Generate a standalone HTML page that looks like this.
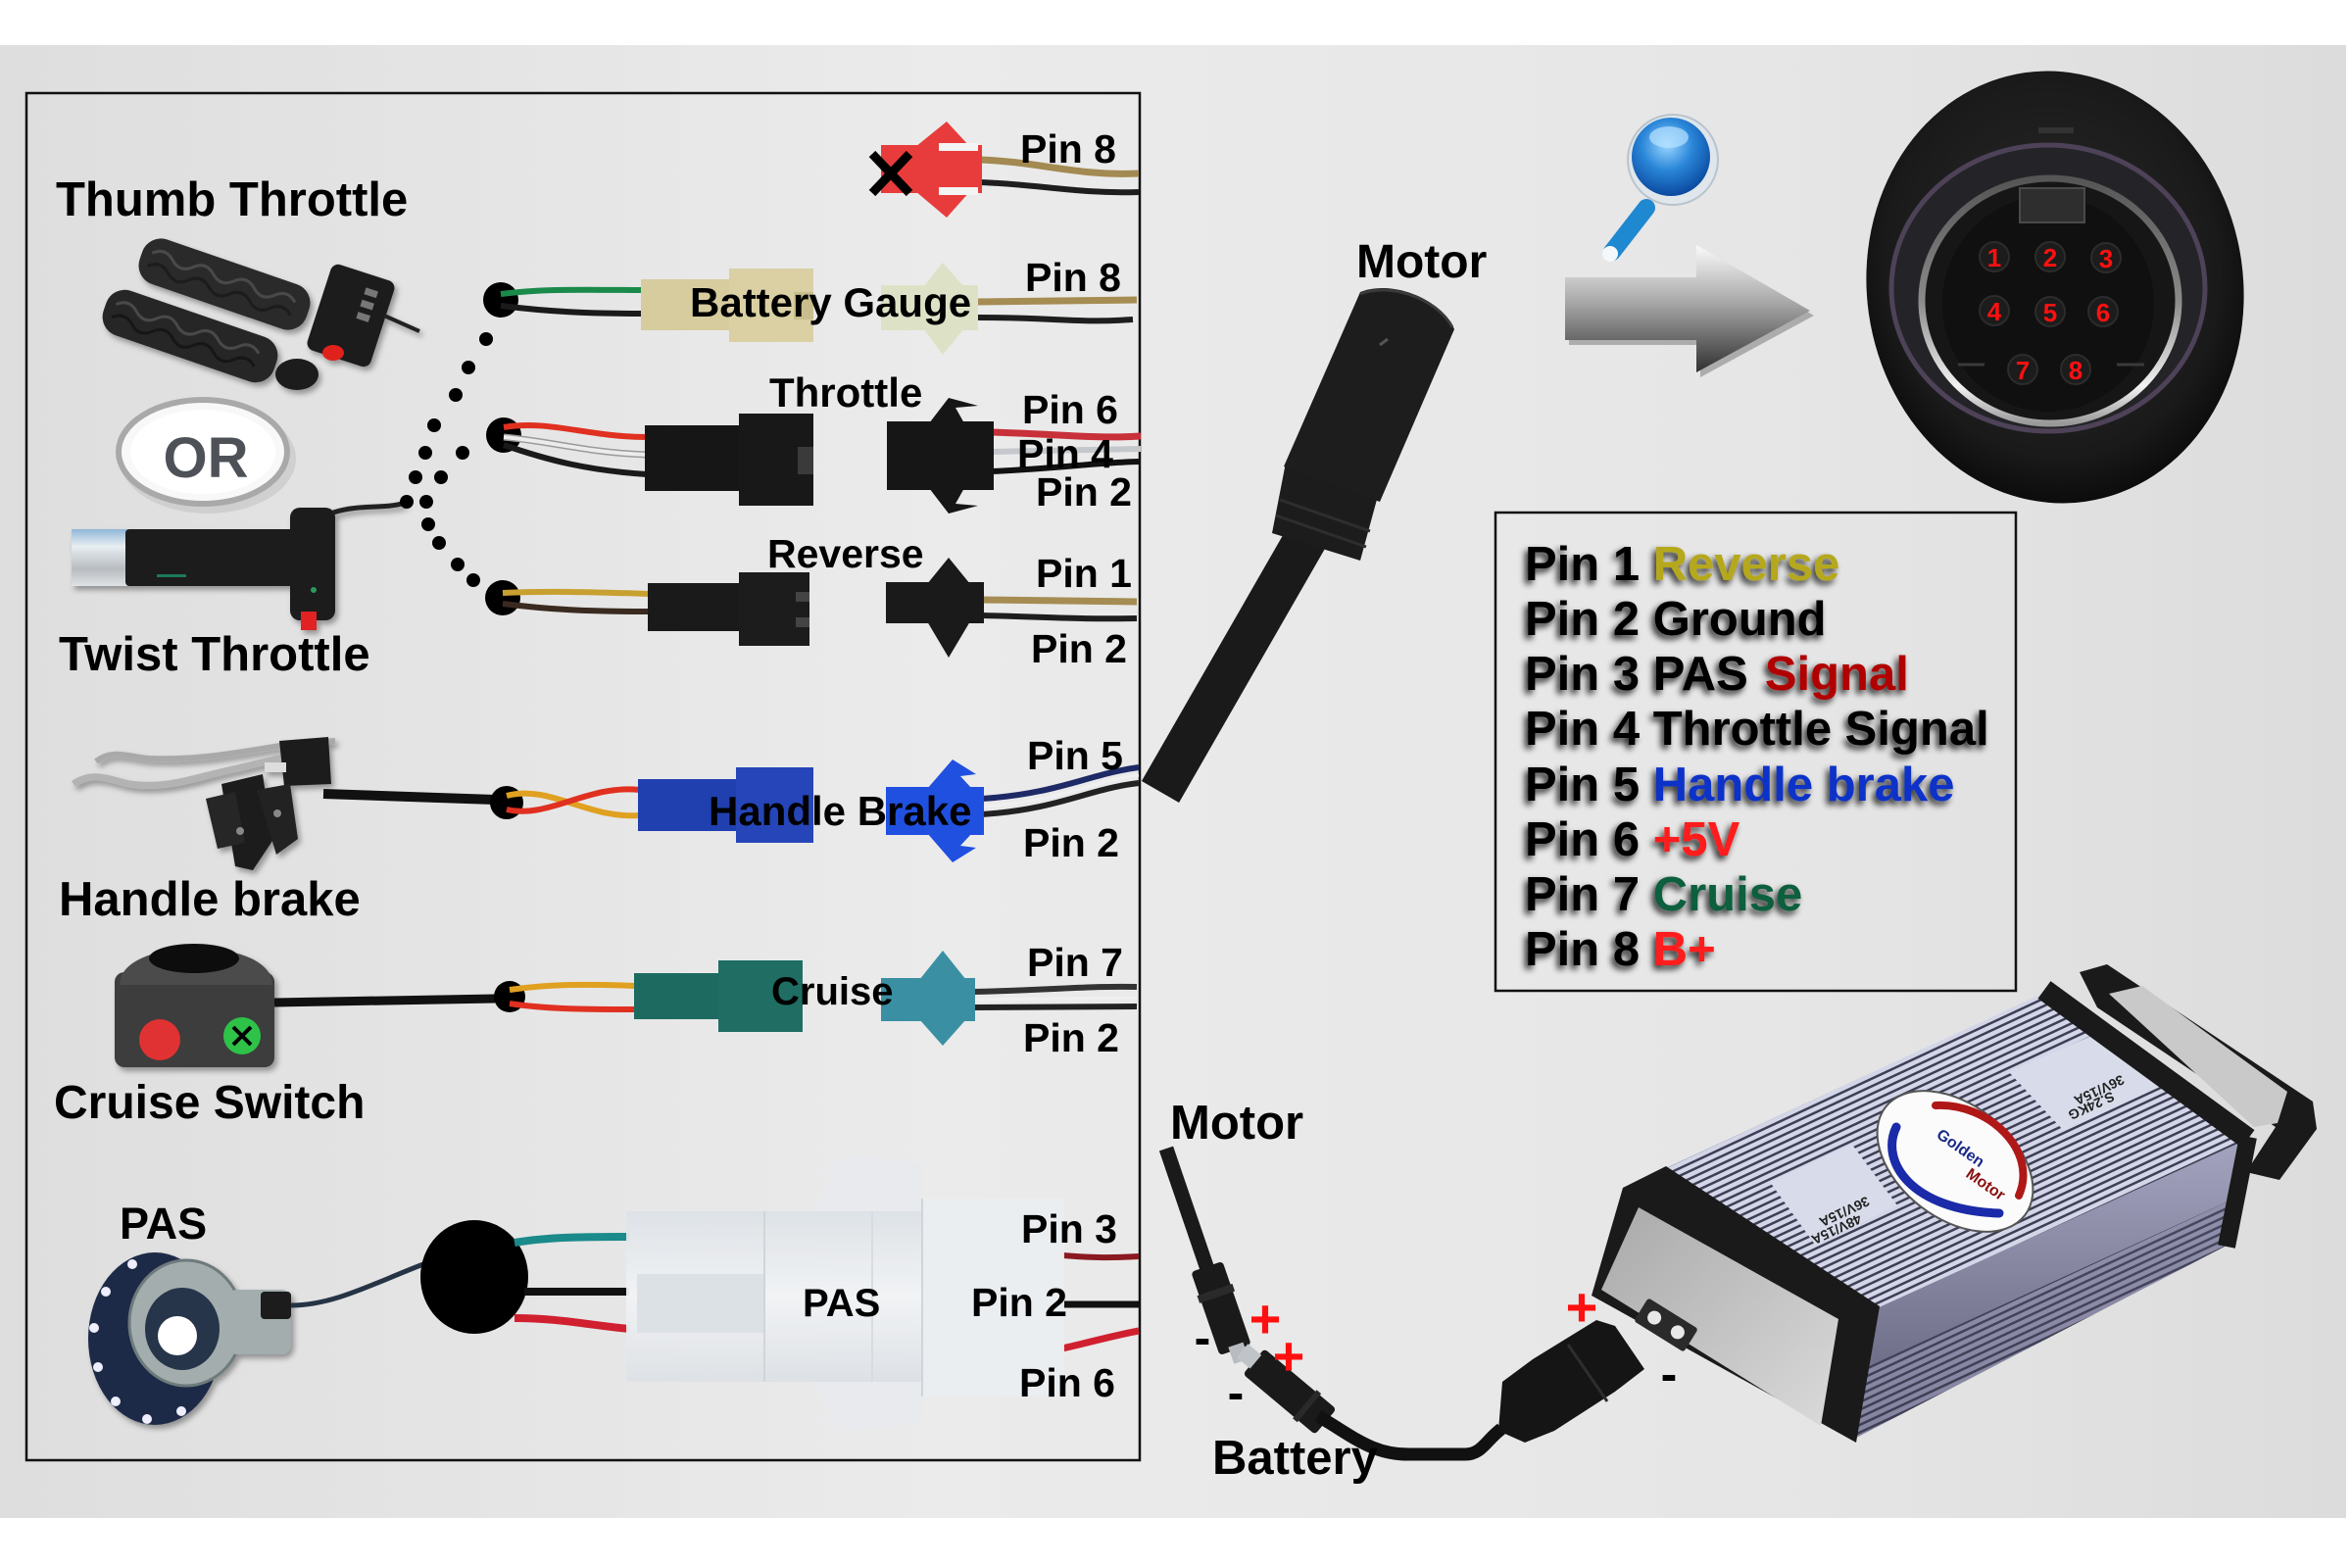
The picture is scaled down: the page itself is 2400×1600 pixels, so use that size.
<!DOCTYPE html>
<html><head><meta charset="utf-8"><title>Wiring diagram</title>
<style>
html,body{margin:0;padding:0;background:#fff;width:2400px;height:1600px;overflow:hidden}
svg{display:block}
text{font-family:"Liberation Sans",Arial,sans-serif;font-weight:bold}
</style></head><body>
<svg width="2400" height="1600" viewBox="0 0 2400 1600" xmlns="http://www.w3.org/2000/svg">
<defs>
 <linearGradient id="bg" x1="0" y1="0" x2="1" y2="0">
  <stop offset="0" stop-color="#dedede"/><stop offset="0.4" stop-color="#ebebeb"/><stop offset="0.75" stop-color="#e6e6e6"/><stop offset="1" stop-color="#dcdcdc"/>
 </linearGradient>
 <linearGradient id="ag" x1="0" y1="0" x2="0" y2="1">
  <stop offset="0" stop-color="#fbfbfb"/><stop offset="0.45" stop-color="#a8a8a8"/><stop offset="1" stop-color="#303030"/>
 </linearGradient>
 <radialGradient id="lg" cx="0.45" cy="0.35" r="0.65">
  <stop offset="0" stop-color="#9ad6ff"/><stop offset="0.5" stop-color="#2a86d8"/><stop offset="1" stop-color="#0a4aa0"/>
 </radialGradient>
 <radialGradient id="cg" cx="0.5" cy="0.45" r="0.55">
  <stop offset="0" stop-color="#2a2a2a"/><stop offset="0.8" stop-color="#1a1a1a"/><stop offset="1" stop-color="#0c0c0c"/>
 </radialGradient>
 <linearGradient id="sr" x1="0" y1="0" x2="0" y2="1">
  <stop offset="0" stop-color="#555"/><stop offset="0.5" stop-color="#8a8a8a"/><stop offset="0.85" stop-color="#f2f2f2"/><stop offset="1" stop-color="#999"/>
 </linearGradient>
 <linearGradient id="fp" x1="0" y1="0" x2="1" y2="1">
  <stop offset="0" stop-color="#a9a9a9"/><stop offset="1" stop-color="#dadada"/>
 </linearGradient>
 <linearGradient id="sf" x1="0" y1="0" x2="0" y2="1">
  <stop offset="0" stop-color="#a4a4c0"/><stop offset="1" stop-color="#5e5e78"/>
 </linearGradient>
 <linearGradient id="silver" x1="0" y1="0" x2="0" y2="1">
  <stop offset="0" stop-color="#8fb6d8"/><stop offset="0.3" stop-color="#e8eef2"/><stop offset="0.7" stop-color="#b8bcc0"/><stop offset="1" stop-color="#dfe2e4"/>
 </linearGradient>
 <linearGradient id="wc" x1="0" y1="0" x2="0" y2="1">
  <stop offset="0" stop-color="#dde2e7"/><stop offset="0.5" stop-color="#f2f4f6"/><stop offset="1" stop-color="#dde1e6"/>
 </linearGradient>
 <pattern id="ribs" width="12" height="7" patternUnits="userSpaceOnUse" patternTransform="rotate(-25)">
  <rect width="12" height="7" fill="#d3d6e8"/><rect y="4.5" width="12" height="2.5" fill="#3e3e55"/>
 </pattern>
 <pattern id="ribs2" width="12" height="7" patternUnits="userSpaceOnUse" patternTransform="rotate(-25)">
  <rect width="12" height="7" fill="#8e8eaa"/><rect y="4.5" width="12" height="2.5" fill="#34344a"/>
 </pattern>
 <filter id="sh" x="-10%" y="-40%" width="125%" height="190%">
  <feGaussianBlur in="SourceAlpha" stdDeviation="3.5"/>
  <feOffset dx="-3" dy="4" result="o"/>
  <feComponentTransfer><feFuncA type="linear" slope="0.85"/></feComponentTransfer>
  <feMerge><feMergeNode/><feMergeNode in="SourceGraphic"/></feMerge>
 </filter>
 <filter id="ds" x="-20%" y="-20%" width="140%" height="150%">
  <feDropShadow dx="3" dy="4" stdDeviation="3" flood-color="#000" flood-opacity="0.35"/>
 </filter>
</defs>

<!-- background -->
<rect x="0" y="0" width="2400" height="1600" fill="#ffffff"/>
<rect x="0" y="46" width="2394" height="1503" fill="url(#bg)"/>

<!-- frame -->
<rect x="27" y="95" width="1136" height="1395" fill="none" stroke="#111" stroke-width="2.5"/>

<!-- ===== Left labels ===== -->
<text x="57" y="220" font-size="49" fill="#000">Thumb Throttle</text>
<text x="60" y="684" font-size="49" fill="#000">Twist Throttle</text>
<text x="60" y="934" font-size="49" fill="#000">Handle brake</text>
<text x="55" y="1141" font-size="48" fill="#000">Cruise Switch</text>
<text x="122" y="1264" font-size="45" fill="#000">PAS</text>

<!-- Thumb throttle image -->
<g filter="url(#ds)">
 <g transform="translate(229,290) rotate(19)">
  <rect x="-90" y="-24" width="180" height="48" rx="20" fill="#2b2b2b"/>
  <path d="M-80,-6 q11,-10 22,0 t22,0 t22,0 t22,0 t22,0 t22,0 t22,0" stroke="#4a4a4a" stroke-width="3" fill="none"/>
  <path d="M-80,8 q11,-10 22,0 t22,0 t22,0 t22,0 t22,0 t22,0 t22,0" stroke="#1a1a1a" stroke-width="3" fill="none"/>
 </g>
 <g transform="translate(194,343) rotate(19)">
  <rect x="-92" y="-24" width="184" height="48" rx="20" fill="#272727"/>
  <path d="M-82,-6 q11,-10 22,0 t22,0 t22,0 t22,0 t22,0 t22,0 t22,0" stroke="#484848" stroke-width="3" fill="none"/>
  <path d="M-82,8 q11,-10 22,0 t22,0 t22,0 t22,0 t22,0 t22,0 t22,0" stroke="#151515" stroke-width="3" fill="none"/>
 </g>
 <g transform="translate(358,322) rotate(18)">
  <rect x="-34" y="-46" width="68" height="92" rx="8" fill="#1f1f1f"/>
  <rect x="6" y="-32" width="13" height="7" fill="#777"/><rect x="6" y="-19" width="13" height="7" fill="#777"/><rect x="6" y="-6" width="13" height="7" fill="#777"/>
 </g>
 <ellipse cx="303" cy="382" rx="22" ry="16" fill="#1a1a1a"/>
 <ellipse cx="340" cy="360" rx="11" ry="8" fill="#e0201e"/>
 <line x1="392" y1="322" x2="428" y2="338" stroke="#222" stroke-width="4"/>
</g>

<!-- OR badge -->
<ellipse cx="212" cy="468" rx="90" ry="56" fill="#bdbdbd" opacity="0.5"/>
<ellipse cx="207" cy="461" rx="86" ry="53" fill="#f8f8f8" stroke="#a9a9a9" stroke-width="6"/>
<ellipse cx="207" cy="461" rx="74" ry="43" fill="#ffffff"/>
<text x="210" y="487" font-size="58" fill="#4e5258" text-anchor="middle">OR</text>

<!-- Twist throttle -->
<g filter="url(#ds)">
 <rect x="73" y="540" width="62" height="58" fill="url(#silver)"/>
 <rect x="128" y="540" width="212" height="58" rx="4" fill="#1e1e1e"/>
 <rect x="160" y="586" width="30" height="3" fill="#1f7a5a"/>
 <rect x="296" y="518" width="46" height="115" rx="10" fill="#1a1a1a"/>
 <circle cx="320" cy="602" r="3" fill="#2a9a5a"/>
 <rect x="307" y="624" width="16" height="19" fill="#e02020"/>
 <path d="M340,523 C368,514 392,520 413,513" stroke="#222" stroke-width="5" fill="none"/>
</g>

<!-- Handle brake image -->
<g filter="url(#ds)">
 <path d="M75,800 C95,786 112,796 132,800 C172,806 202,792 242,784 L300,770" stroke="#b3b3b3" stroke-width="7" fill="none"/>
 <path d="M98,777 C114,764 130,772 152,774 C202,776 242,768 292,760 L342,756" stroke="#a9a9a9" stroke-width="6" fill="none"/>
 <polygon points="285,756 335,752 338,800 290,802" fill="#1e1e1e"/>
 <polygon points="226,800 268,790 278,858 258,888 240,884" fill="#1c1c1c"/>
 <polygon points="262,806 296,800 304,856 282,872" fill="#232323"/>
 <polygon points="210,815 240,808 250,860 222,866" fill="#262626"/>
 <circle cx="245" cy="848" r="4" fill="#888"/><circle cx="283" cy="830" r="4" fill="#888"/>
 <rect x="270" y="778" width="22" height="10" fill="#ddd"/>
</g>
<line x1="330" y1="810" x2="505" y2="816" stroke="#111" stroke-width="10"/>

<!-- Cruise switch -->
<g filter="url(#ds)">
 <rect x="117" y="992" width="163" height="97" rx="10" fill="#3c3c3c"/>
 <path d="M122,1005 C122,955 278,955 278,1005 Z" fill="#4b4b4b"/>
 <ellipse cx="198" cy="978" rx="46" ry="15" fill="#111"/>
 <circle cx="163" cy="1061" r="21" fill="#e03030"/>
 <circle cx="247" cy="1057" r="19" fill="#2ec24a"/>
 <path d="M238,1048 L256,1066 M256,1048 L238,1066" stroke="#000" stroke-width="4"/>
</g>
<line x1="280" y1="1023" x2="505" y2="1019" stroke="#111" stroke-width="9"/>

<!-- PAS sensor -->
<g filter="url(#ds)">
 <ellipse cx="158" cy="1366" rx="68" ry="88" fill="#1d2c47"/>
 <g fill="#eef">
  <circle cx="108" cy="1318" r="5"/><circle cx="96" cy="1355" r="5"/><circle cx="100" cy="1395" r="5"/><circle cx="118" cy="1430" r="5"/>
  <circle cx="150" cy="1448" r="5"/><circle cx="185" cy="1440" r="5"/><circle cx="135" cy="1290" r="5"/>
 </g>
 <ellipse cx="190" cy="1350" rx="58" ry="64" fill="#a3adae" stroke="#6e7a7c" stroke-width="3"/>
 <ellipse cx="186" cy="1356" rx="38" ry="42" fill="#26344a"/>
 <circle cx="181" cy="1363" r="20" fill="#ffffff"/>
 <rect x="232" y="1316" width="65" height="66" rx="10" fill="#a3adae"/>
 <rect x="266" y="1318" width="31" height="28" rx="4" fill="#1a1a1a"/>
</g>
<path d="M297,1332 C340,1332 380,1310 432,1290" stroke="#253445" stroke-width="5" fill="none"/>

<!-- dotted connection -->
<g fill="#000">
 <circle cx="496" cy="346" r="7"/><circle cx="478" cy="375" r="7"/><circle cx="465" cy="403" r="7"/>
 <circle cx="443" cy="434" r="7"/><circle cx="434" cy="462" r="7"/><circle cx="424" cy="487" r="7"/><circle cx="415" cy="512" r="7"/>
 <circle cx="472" cy="462" r="7"/><circle cx="450" cy="487" r="7"/><circle cx="435" cy="512" r="7"/>
 <circle cx="437" cy="535" r="7"/><circle cx="448" cy="554" r="7"/><circle cx="467" cy="576" r="7"/><circle cx="483" cy="592" r="7"/>
</g>

<!-- ===== Row: red Pin 8 ===== -->
<path d="M1000,163 C1060,165 1100,180 1162,177" stroke="#a38a52" stroke-width="7" fill="none"/>
<path d="M1000,186 C1060,188 1100,198 1162,196" stroke="#1e1e1e" stroke-width="6" fill="none"/>
<rect x="899" y="148" width="103" height="49" fill="#e83c3c"/>
<polygon points="934,150 966,124 990,150" fill="#e83c3c"/>
<polygon points="934,195 966,222 990,195" fill="#e83c3c"/>
<rect x="958" y="146" width="40" height="8" fill="#f4f4f4"/>
<rect x="958" y="191" width="40" height="8" fill="#f4f4f4"/>
<path d="M890,157 L928,197 M928,157 L890,197" stroke="#000" stroke-width="9"/>
<text x="1041" y="166" font-size="41" fill="#000">Pin 8</text>

<!-- ===== Row: Battery gauge ===== -->
<circle cx="511" cy="306" r="18" fill="#000"/>
<path d="M511,300 C560,294 600,296 656,296" stroke="#1a8a4a" stroke-width="6" fill="none"/>
<path d="M511,312 C560,318 600,320 656,320" stroke="#1a1a1a" stroke-width="6" fill="none"/>
<rect x="654" y="285" width="92" height="52" fill="#d6cc9e"/>
<rect x="744" y="274" width="86" height="75" fill="#dad0a4"/>
<rect x="810" y="298" width="20" height="28" fill="#c8bd8c"/>
<path d="M998,308 L1160,306" stroke="#a58c52" stroke-width="7" fill="none"/>
<path d="M998,324 C1080,324 1100,330 1156,326" stroke="#1e1e1e" stroke-width="6" fill="none"/>
<rect x="899" y="291" width="99" height="46" fill="#dde2c6"/>
<polygon points="942,293 962,268 984,293" fill="#dde2c6"/>
<polygon points="942,335 962,362 984,335" fill="#dde2c6"/>
<text x="704" y="323" font-size="42" fill="#000">Battery Gauge</text>
<text x="1046" y="297" font-size="41" fill="#000">Pin 8</text>

<!-- ===== Row: Throttle ===== -->
<circle cx="514" cy="444" r="18" fill="#000"/>
<path d="M514,436 C560,428 600,446 660,446" stroke="#e03020" stroke-width="6" fill="none"/>
<path d="M514,446 C560,450 600,462 660,464" stroke="#9a9a9a" stroke-width="7" fill="none"/>
<path d="M514,446 C560,450 600,462 660,464" stroke="#ececec" stroke-width="4" fill="none"/>
<path d="M514,454 C560,470 600,480 660,484" stroke="#1a1a1a" stroke-width="6" fill="none"/>
<rect x="658" y="434" width="98" height="67" fill="#161616"/>
<rect x="754" y="422" width="76" height="94" fill="#181818"/>
<rect x="814" y="456" width="16" height="28" fill="#3a3a3a"/>
<path d="M1012,441 C1080,443 1120,448 1164,445" stroke="#c8303a" stroke-width="7" fill="none"/>
<path d="M1012,461 L1164,458" stroke="#c4c8cc" stroke-width="6" fill="none"/>
<path d="M1012,481 C1080,478 1120,472 1162,471" stroke="#111" stroke-width="6" fill="none"/>
<rect x="905" y="430" width="109" height="70" fill="#161616"/>
<polygon points="948,432 968,406 998,414 975,416 984,432" fill="#161616"/>
<polygon points="948,498 968,524 998,516 975,514 984,498" fill="#161616"/>
<text x="785" y="415" font-size="42" fill="#000">Throttle</text>
<text x="1043" y="432" font-size="41" fill="#000">Pin 6</text>
<text x="1038" y="477" font-size="41" fill="#000">Pin 4</text>
<text x="1057" y="516" font-size="41" fill="#000">Pin 2</text>

<!-- ===== Row: Reverse ===== -->
<circle cx="513" cy="610" r="18" fill="#000"/>
<path d="M513,605 C560,603 600,604 662,606" stroke="#c8a030" stroke-width="6" fill="none"/>
<path d="M513,616 C560,622 600,624 662,624" stroke="#3a2a20" stroke-width="6" fill="none"/>
<rect x="661" y="595" width="95" height="49" fill="#1a1a1a"/>
<rect x="754" y="584" width="72" height="75" fill="#1c1c1c"/>
<rect x="812" y="604" width="14" height="10" fill="#444"/><rect x="812" y="630" width="14" height="10" fill="#444"/>
<path d="M1002,612 L1160,614" stroke="#a58c52" stroke-width="7" fill="none"/>
<path d="M1002,628 C1080,630 1100,632 1160,631" stroke="#1e1e1e" stroke-width="6" fill="none"/>
<rect x="904" y="594" width="100" height="42" fill="#1a1a1a"/>
<polygon points="946,596 968,569 990,596" fill="#1a1a1a"/>
<polygon points="946,634 968,671 990,634" fill="#1a1a1a"/>
<text x="783" y="579" font-size="41" fill="#000">Reverse</text>
<text x="1057" y="599" font-size="41" fill="#000">Pin 1</text>
<text x="1052" y="676" font-size="41" fill="#000">Pin 2</text>

<!-- ===== Row: Handle brake ===== -->
<circle cx="517" cy="819" r="17" fill="#000"/>
<path d="M517,812 C560,800 600,836 653,832" stroke="#e0a020" stroke-width="6" fill="none"/>
<path d="M517,826 C560,836 600,800 653,806" stroke="#e03020" stroke-width="6" fill="none"/>
<rect x="651" y="795" width="101" height="53" fill="#2040b0"/>
<rect x="751" y="783" width="79" height="77" fill="#2545b8"/>
<path d="M1002,815 C1080,810 1110,790 1162,783" stroke="#1e2a66" stroke-width="6" fill="none"/>
<path d="M1002,823 C1080,818 1110,798 1162,791" stroke="#f0f0f0" stroke-width="3" fill="none"/>
<path d="M1002,831 C1080,826 1110,805 1162,799" stroke="#222" stroke-width="6" fill="none"/>
<rect x="904" y="803" width="100" height="49" fill="#2050e0"/>
<polygon points="946,805 972,775 996,790 980,792 992,805" fill="#2050e0"/>
<polygon points="946,850 972,880 996,865 980,863 992,850" fill="#2050e0"/>
<text x="723" y="842" font-size="42" fill="#000">Handle Brake</text>
<text x="1048" y="785" font-size="41" fill="#000">Pin 5</text>
<text x="1044" y="874" font-size="41" fill="#000">Pin 2</text>

<!-- ===== Row: Cruise ===== -->
<circle cx="520" cy="1017" r="16" fill="#000"/>
<path d="M520,1010 C560,1004 600,1004 649,1006" stroke="#e0a020" stroke-width="6" fill="none"/>
<path d="M520,1024 C560,1030 600,1030 649,1030" stroke="#e03020" stroke-width="6" fill="none"/>
<rect x="647" y="993" width="88" height="47" fill="#1d6b60"/>
<rect x="733" y="980" width="86" height="73" fill="#1f6d63"/>
<path d="M993,1012 C1080,1010 1110,1006 1160,1007" stroke="#333" stroke-width="6" fill="none"/>
<path d="M993,1020 L1160,1018" stroke="#f0f0f0" stroke-width="3" fill="none"/>
<path d="M993,1028 L1160,1027" stroke="#222" stroke-width="6" fill="none"/>
<rect x="899" y="998" width="96" height="44" fill="#3a90a2"/>
<polygon points="938,1000 962,970 986,1000" fill="#3a90a2"/>
<polygon points="938,1040 962,1067 986,1040" fill="#3a90a2"/>
<text x="787" y="1025" font-size="40" fill="#000">Cruise</text>
<text x="1048" y="996" font-size="41" fill="#000">Pin 7</text>
<text x="1044" y="1073" font-size="41" fill="#000">Pin 2</text>

<!-- ===== Row: PAS ===== -->
<ellipse cx="484" cy="1303" rx="55" ry="58" fill="#000"/>
<path d="M525,1268 C560,1262 600,1262 642,1262" stroke="#1a8a8a" stroke-width="8" fill="none"/>
<path d="M535,1318 L642,1318" stroke="#111" stroke-width="8" fill="none"/>
<path d="M525,1345 C570,1345 600,1352 642,1356" stroke="#d02030" stroke-width="8" fill="none"/>
<path d="M1084,1281 C1110,1283 1130,1284 1162,1282" stroke="#8a1a20" stroke-width="6" fill="none"/>
<path d="M1084,1331 L1162,1331" stroke="#111" stroke-width="7" fill="none"/>
<path d="M1084,1376 C1110,1370 1140,1362 1162,1358" stroke="#d02030" stroke-width="7" fill="none"/>
<g opacity="0.95">
 <polygon points="830,1236 850,1196 835,1196 868,1178 941,1188 941,1236" fill="#e8ebee"/>
 <polygon points="830,1410 850,1446 835,1446 868,1460 941,1452 941,1410" fill="#e8ebee"/>
 <rect x="639" y="1236" width="447" height="174" fill="url(#wc)"/>
 <rect x="941" y="1223" width="145" height="202" fill="#eceff2"/>
 <rect x="650" y="1300" width="130" height="60" fill="#dce1e6"/>
 <line x1="780" y1="1236" x2="780" y2="1410" stroke="#cfd4da" stroke-width="2"/>
 <line x1="890" y1="1236" x2="890" y2="1410" stroke="#d8dce2" stroke-width="2"/>
 <line x1="941" y1="1223" x2="941" y2="1425" stroke="#cfd4da" stroke-width="2"/>
</g>
<text x="819" y="1343" font-size="40" fill="#000">PAS</text>
<text x="991" y="1343" font-size="41" fill="#000">Pin 2</text>
<text x="1042" y="1268" font-size="41" fill="#000">Pin 3</text>
<text x="1040" y="1425" font-size="41" fill="#000">Pin 6</text>

<!-- ===== Motor cable (top) ===== -->
<text x="1384" y="283" font-size="48" fill="#000">Motor</text>
<line x1="1338" y1="540" x2="1184" y2="808" stroke="#1a1a1a" stroke-width="44"/>
<polygon points="1312,472 1406,506 1388,572 1298,544" fill="#1c1c1c"/>
<path d="M1306,510 L1398,542 M1302,526 L1394,558" stroke="#2e2e2e" stroke-width="3"/>
<path d="M1388,298 C1418,286 1468,302 1484,336 L1408,512 L1310,476 Z" fill="#1d1d1d"/>
<path d="M1388,300 C1418,288 1466,304 1482,334" stroke="#3a3a3a" stroke-width="3" fill="none"/>
<path d="M1408,352 L1416,346" stroke="#555" stroke-width="3"/>

<!-- magnifier -->
<line x1="1680" y1="212" x2="1645" y2="257" stroke="#1e88d0" stroke-width="18" stroke-linecap="round"/>
<circle cx="1643" cy="259" r="8" fill="#f4f8fa"/>
<circle cx="1707" cy="163" r="46" fill="#dfe6ec" stroke="#b8c4cc" stroke-width="2"/>
<circle cx="1705" cy="160" r="40" fill="url(#lg)"/>
<ellipse cx="1703" cy="140" rx="20" ry="11" fill="#b8e2ff" opacity="0.7"/>

<!-- arrow -->
<polygon points="1601,288 1735,288 1735,255 1851,322 1735,385 1735,352 1601,352" fill="#000" opacity="0.25"/>
<polygon points="1597,283 1731,283 1731,250 1847,317 1731,380 1731,347 1597,347" fill="url(#ag)"/>

<!-- round connector -->
<ellipse cx="2097" cy="293" rx="192" ry="221" transform="rotate(-8 2097 293)" fill="url(#cg)"/>
<ellipse cx="2090" cy="294" rx="160" ry="146" fill="#242428" stroke="#4e4258" stroke-width="5"/>
<ellipse cx="2092" cy="307" rx="131" ry="125" fill="#161616" stroke="url(#sr)" stroke-width="7"/>
<ellipse cx="2090" cy="310" rx="108" ry="110" fill="#101010"/>
<rect x="2061" y="192" width="66" height="35" fill="#2e2e2e" stroke="#4a4a4a" stroke-width="2"/>
<rect x="2080" y="130" width="36" height="6" fill="#333"/>
<path d="M1998,372 L2025,372 M2160,372 L2188,372" stroke="#3a3a3a" stroke-width="3"/>
<g fill="#1c1c1c" stroke="#2c2c2c" stroke-width="2">
 <circle cx="2035" cy="262" r="15"/><circle cx="2092" cy="262" r="15"/><circle cx="2149" cy="263" r="15"/>
 <circle cx="2035" cy="317" r="15"/><circle cx="2092" cy="318" r="15"/><circle cx="2146" cy="318" r="15"/>
 <circle cx="2064" cy="377" r="15"/><circle cx="2118" cy="377" r="15"/>
</g>
<g font-size="26" fill="#ff1010" text-anchor="middle">
 <text x="2035" y="272">1</text><text x="2092" y="272">2</text><text x="2149" y="273">3</text>
 <text x="2035" y="327">4</text><text x="2092" y="328">5</text><text x="2146" y="328">6</text>
 <text x="2064" y="387">7</text><text x="2118" y="387">8</text>
</g>

<!-- legend box -->
<rect x="1526" y="523" width="531" height="488" fill="none" stroke="#111" stroke-width="2.5"/>
<g font-size="49" fill="#000" filter="url(#sh)">
 <text x="1556" y="592">Pin 1 <tspan fill="#b5a81c">Reverse</tspan></text>
 <text x="1556" y="648">Pin 2 Ground</text>
 <text x="1556" y="704">Pin 3 PAS<tspan dx="17" fill="#b00000">Signal</tspan></text>
 <text x="1556" y="760">Pin 4 Throttle Signal</text>
 <text x="1556" y="817">Pin 5 <tspan fill="#1030c8">Handle brake</tspan></text>
 <text x="1556" y="873">Pin 6 <tspan fill="#ff1a1a">+5V</tspan></text>
 <text x="1556" y="929">Pin 7 <tspan fill="#0b5e3e">Cruise</tspan></text>
 <text x="1556" y="985">Pin 8 <tspan fill="#ff1a1a">B+</tspan></text>
</g>

<!-- ===== bottom: motor lead & battery ===== -->
<text x="1194" y="1162" font-size="49" fill="#000">Motor</text>
<line x1="1190" y1="1172" x2="1232" y2="1295" stroke="#1a1a1a" stroke-width="15"/>
<g transform="translate(1246,1335) rotate(71)">
 <rect x="-45" y="-17" width="90" height="34" rx="4" fill="#1a1a1a"/>
 <rect x="-20" y="-19" width="8" height="38" fill="#2a2a2a"/>
 <rect x="40" y="-10" width="18" height="16" fill="#b8bcc0"/>
</g>
<g transform="translate(1316,1420) rotate(40)">
 <rect x="-48" y="-17" width="96" height="34" rx="4" fill="#1a1a1a"/>
 <rect x="-64" y="-10" width="18" height="18" fill="#c0c4c8"/>
 <rect x="20" y="-19" width="6" height="38" fill="#2a2a2a"/>
</g>
<path d="M1345,1445 C1380,1465 1400,1485 1440,1484 L1495,1484 C1512,1484 1516,1470 1532,1458" stroke="#111" stroke-width="13" fill="none"/>
<polygon points="1529,1460 1533,1410 1564,1387 1629,1347 1648,1353 1678,1397 1648,1420 1586,1460 1556,1472" fill="#151515"/>
<path d="M1600,1372 L1640,1430" stroke="#2e2e2e" stroke-width="3"/>
<text x="1237" y="1504" font-size="49" fill="#000">Battery</text>
<g font-size="56" fill="#ff1010" text-anchor="middle">
 <text x="1291" y="1365">+</text><text x="1315" y="1403">+</text><text x="1614" y="1353">+</text>
</g>
<g font-size="50" fill="#000" text-anchor="middle">
 <text x="1227" y="1382">-</text><text x="1261" y="1438">-</text><text x="1703" y="1419">-</text>
</g>

<!-- ===== controller box ===== -->
<polygon points="2122,992 2150,984 2360,1124 2364,1152 2326,1204 2292,1196 2322,1150 2140,1028" fill="#1a1a1a"/>
<polygon points="2152,1014 2186,1006 2334,1114 2324,1146 2300,1150" fill="#c9c9c9"/>
<polygon points="1915,1335 2292,1163 2270,1272 1892,1468" fill="url(#sf)"/>
<polygon points="1905,1395 2282,1222 2270,1272 1892,1468" fill="url(#ribs2)" opacity="0.8"/>
<polygon points="1700,1192 1915,1335 2292,1163 2088,1012" fill="url(#ribs)"/>
<polygon points="1806,1206 1890,1168 1936,1230 1852,1270" fill="#d8dcea"/>
<polygon points="2050,1094 2150,1050 2206,1108 2106,1154" fill="#d8dcea"/>
<g font-size="14" fill="#222">
 <text transform="translate(1880,1232) rotate(155)" text-anchor="middle">36V/15A</text>
 <text transform="translate(1872,1250) rotate(155)" text-anchor="middle">48V/15A</text>
 <text transform="translate(2140,1108) rotate(155)" text-anchor="middle">36V/15A</text>
 <text transform="translate(2132,1124) rotate(155)" text-anchor="middle">S.24KG</text>
</g>
<ellipse cx="1995" cy="1185" rx="90" ry="58" transform="rotate(38 1995 1185)" fill="#fbfbfb" stroke="#555" stroke-width="2"/>
<path d="M1935,1150 C1918,1185 1950,1235 2040,1238" stroke="#1a2aa8" stroke-width="9" fill="none" stroke-linecap="round"/>
<path d="M1975,1128 C2030,1125 2080,1175 2060,1220" stroke="#b01818" stroke-width="8" fill="none" stroke-linecap="round"/>
<text transform="translate(1975,1160) rotate(35)" font-size="16" fill="#1a2a88">Golden</text>
<text transform="translate(2005,1200) rotate(35)" font-size="16" fill="#8a1010">Motor</text>
<line x1="2086" y1="1010" x2="2294" y2="1162" stroke="#1a1a1a" stroke-width="22"/>
<line x1="2294" y1="1160" x2="2272" y2="1272" stroke="#1a1a1a" stroke-width="18"/>
<polygon points="1656,1212 1700,1190 1918,1333 1894,1472 1624,1322" fill="#1a1a1a"/>
<polygon points="1672,1232 1876,1346 1858,1455 1634,1316" fill="url(#fp)"/>
<g transform="translate(1700,1352) rotate(32)">
 <rect x="-30" y="-14" width="60" height="28" rx="3" fill="#2a2a2a"/>
 <circle cx="-14" cy="0" r="7" fill="#e8e8e8"/><circle cx="14" cy="0" r="7" fill="#e8e8e8"/>
</g>
</svg>
</body></html>
